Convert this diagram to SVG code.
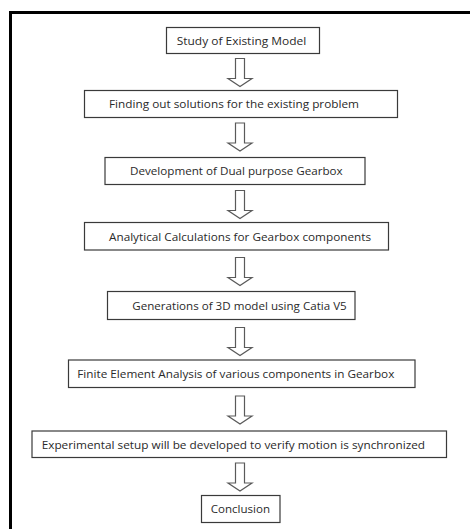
<svg xmlns="http://www.w3.org/2000/svg" width="470" height="529" viewBox="0 0 470 529">
<style>
.box{fill:#fff;stroke:#3a3a3a;stroke-width:1.2}
.lbl{font-family:"Open Sans","Liberation Sans",sans-serif;font-size:11px;fill:#2a2a2a}
.arr{fill:#fff;stroke:#5a5a5a;stroke-width:1.2;stroke-linejoin:miter}
</style>
<defs>
<path id="blk" d="M-4.5,0 H4.5 V20 H12 L0,28 L-12,20 H-4.5 Z"/>
</defs>
<rect width="470" height="529" fill="#fff"/>
<path d="M10.5,529 V12.5 H470" fill="none" stroke="#000" stroke-width="3"/>
<g id="connectors">
<use href="#blk" class="arr" transform="translate(240,58.5)"/>
<use href="#blk" class="arr" transform="translate(240,123)"/>
<use href="#blk" class="arr" transform="translate(240,190.5)"/>
<use href="#blk" class="arr" transform="translate(240,257.5)"/>
<use href="#blk" class="arr" transform="translate(240,327.5)"/>
<use href="#blk" class="arr" transform="translate(240,396)"/>
<use href="#blk" class="arr" transform="translate(240,463)"/>
</g>
<g id="n1"><rect class="box" x="166.5" y="27.5" width="153" height="26"/><text class="lbl" x="176.7" y="44.5" textLength="129.6" lengthAdjust="spacingAndGlyphs">Study of Existing Model</text></g>
<g id="n2"><rect class="box" x="84.5" y="90.5" width="313" height="27"/><text class="lbl" x="109" y="108" textLength="250" lengthAdjust="spacingAndGlyphs">Finding out solutions for the existing problem</text></g>
<g id="n3"><rect class="box" x="105" y="157.5" width="260" height="27"/><text class="lbl" x="130" y="175" textLength="212.7" lengthAdjust="spacingAndGlyphs">Development of Dual purpose Gearbox</text></g>
<g id="n4"><rect class="box" x="84.5" y="222.5" width="304" height="27.5"/><text class="lbl" x="109" y="240.5" textLength="262" lengthAdjust="spacingAndGlyphs">Analytical Calculations for Gearbox components</text></g>
<g id="n5"><rect class="box" x="107.5" y="291.5" width="247.5" height="28"/><text class="lbl" x="132.3" y="309.5" textLength="214.4" lengthAdjust="spacingAndGlyphs">Generations of 3D model using Catia V5</text></g>
<g id="n6"><rect class="box" x="68.5" y="360" width="346.5" height="27.5"/><text class="lbl" x="77.3" y="378" textLength="317" lengthAdjust="spacingAndGlyphs">Finite Element Analysis of various components in Gearbox</text></g>
<g id="n7"><rect class="box" x="32" y="431" width="414.5" height="26.5"/><text class="lbl" x="41.7" y="448.5" textLength="383.3" lengthAdjust="spacingAndGlyphs">Experimental setup will be developed to verify motion  is synchronized</text></g>
<g id="n8"><rect class="box" x="201.5" y="495.5" width="78.5" height="27"/><text class="lbl" x="210.7" y="513" textLength="59.3" lengthAdjust="spacingAndGlyphs">Conclusion</text></g>
</svg>
